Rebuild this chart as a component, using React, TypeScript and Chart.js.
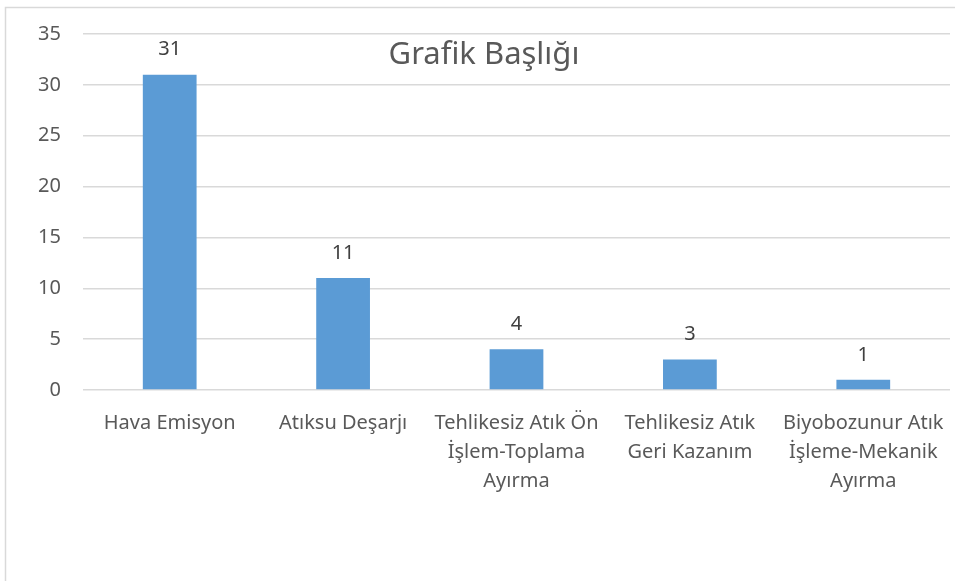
import React, { useEffect, useRef } from "react";
import { Chart, registerables } from "chart.js";

Chart.register(...registerables);

const categories: string[][] = [
  ["Hava Emisyon"],
  ["Atıksu Deşarjı"],
  ["Tehlikesiz Atık Ön", "İşlem-Toplama", "Ayırma"],
  ["Tehlikesiz Atık", "Geri Kazanım"],
  ["Biyobozunur Atık", "İşleme-Mekanik", "Ayırma"],
];
const values: number[] = [31, 11, 4, 3, 1];
const chartTitle = "Grafik Başlığı";

const FONT = "'Noto Sans', 'Open Sans', sans-serif";
const TEXT = "#595959";
const GRID = "#d9d9d9";
const BAR = "#5b9bd5";

// Frame around the chart box and the title drawn inside the plot
const framePlugin = {
  id: "frameAndTitle",
  afterDraw(chart: Chart) {
    const { ctx } = chart;
    ctx.save();
    ctx.strokeStyle = GRID;
    ctx.lineWidth = 1.5;
    ctx.strokeRect(5.5, 7.5, chart.width + 20, chart.height + 20);
    ctx.fillStyle = TEXT;
    ctx.font = `31px ${FONT}`;
    ctx.textAlign = "center";
    ctx.textBaseline = "middle";
    ctx.fillText(chartTitle, 484, 55);
    ctx.restore();
  },
};

// Value labels above each bar
const valueLabels = {
  id: "valueLabels",
  afterDatasetsDraw(chart: Chart) {
    const { ctx } = chart;
    const meta = chart.getDatasetMeta(0);
    ctx.save();
    ctx.fillStyle = "#404040";
    ctx.font = `20px ${FONT}`;
    ctx.textAlign = "center";
    ctx.textBaseline = "middle";
    meta.data.forEach((el: any, i: number) => {
      ctx.fillText(String(values[i]), el.x, el.y - 25);
    });
    ctx.restore();
  },
};

export default function App() {
  const ref = useRef<HTMLCanvasElement>(null);
  useEffect(() => {
    document.body.style.margin = "0";
    const chart = new Chart(ref.current!, {
      type: "bar",
      data: {
        labels: categories,
        datasets: [
          {
            data: values,
            backgroundColor: BAR,
            categoryPercentage: 1,
            barPercentage: 0.31,
          },
        ],
      },
      options: {
        animation: false,
        responsive: false,
        layout: { padding: { top: 33, right: 5, left: 0, bottom: 0 } },
        plugins: { legend: { display: false }, tooltip: { enabled: false }, title: { display: false } },
        scales: {
          x: {
            grid: { display: false },
            border: { display: false },
            ticks: {
              color: TEXT,
              font: { family: FONT, size: 20, lineHeight: 1.45 },
              padding: 11,
              maxRotation: 0,
              autoSkip: false,
            },
            afterFit: (s: any) => {
              s.height = 191;
            },
          },
          y: {
            min: 0,
            max: 35,
            grid: { color: GRID, lineWidth: 1.5, drawTicks: false },
            border: { display: false },
            ticks: {
              stepSize: 5,
              color: TEXT,
              font: { family: FONT, size: 20 },
              padding: 22,
            },
            afterFit: (s: any) => {
              s.width = 83;
            },
          },
        },
      },
      plugins: [framePlugin, valueLabels],
    });
    return () => chart.destroy();
  }, []);
  return (
    <div style={{ width: 955, height: 581, background: "#fff" }}>
      <canvas ref={ref} width={955} height={581} />
    </div>
  );
}
